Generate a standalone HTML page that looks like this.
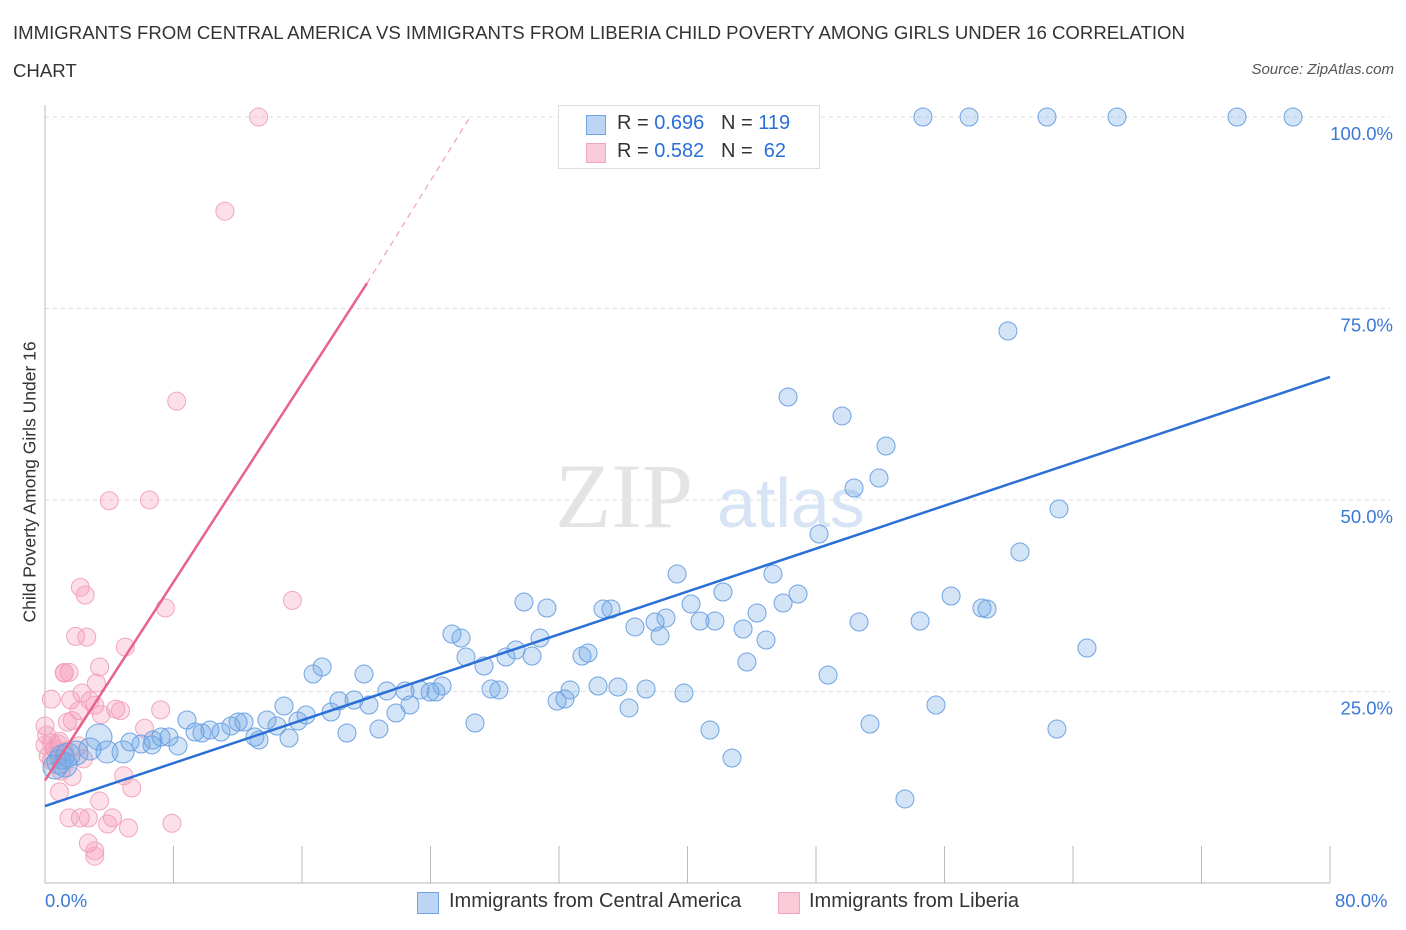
<!DOCTYPE html>
<html><head><meta charset="utf-8"><style>
body{margin:0;background:#fff;font-family:"Liberation Sans",sans-serif;}
#wrap{position:relative;width:1406px;height:930px;overflow:hidden;}
.t{position:absolute;white-space:nowrap;}
</style></head><body>
<div id="wrap">
<div class="t" style="left:13px;top:14px;font-size:18.6px;color:#333;line-height:38px;width:1200px;white-space:normal">IMMIGRANTS FROM CENTRAL AMERICA VS IMMIGRANTS FROM LIBERIA CHILD POVERTY AMONG GIRLS UNDER 16 CORRELATION CHART</div>
<div class="t" style="right:12px;top:61px;font-size:15px;color:#555;font-style:italic">Source: ZipAtlas.com</div>
<svg id="svg" width="1406" height="930" style="position:absolute;left:0;top:0"></svg>
</div>
<script>
const categoriesX=[0,80];
const yTicks=[25,50,75,100];
const yTickLabels=["25.0%","50.0%","75.0%","100.0%"];
const blueX=[54.66,57.53,62.38,66.74,74.21,77.70,59.95,46.26,49.62,52.36,50.37,51.92,63.13,48.19,60.70,39.35,45.32,42.21,46.88,56.41,29.82,31.25,34.74,35.24,58.33,58.65,40.22,45.95,44.33,36.73,37.98,40.78,41.71,38.66,50.68,54.48,43.46,38.29,44.89,30.82,25.34,25.90,29.32,30.32,28.70,33.43,33.81,26.21,27.33,43.70,64.87,17.25,16.69,19.86,48.75,32.69,34.43,35.67,37.42,39.78,27.77,28.26,31.88,32.37,21.29,22.41,23.35,23.97,24.72,24.34,14.88,18.30,19.24,20.17,21.85,22.72,17.81,36.36,55.47,8.84,13.82,16.25,15.75,12.02,11.58,12.39,10.27,10.96,9.34,9.77,14.44,26.77,20.79,18.80,7.72,7.22,6.72,5.29,5.98,6.66,8.28,13.07,13.32,15.19,51.36,63.00,41.40,3.36,3.86,4.86,2.80,1.93,1.43,0.87,1.25,0.62,42.77,53.54,1.06];
const blueY=[100,100,100,100,100,100,72.06,63.45,60.97,57.05,51.57,52.87,48.83,45.56,43.21,40.34,40.34,37.99,37.73,37.47,36.68,35.90,35.77,35.77,35.90,35.77,36.42,36.55,35.25,33.42,34.07,34.20,34.20,34.60,34.07,34.20,33.16,32.25,31.72,31.98,32.51,31.98,30.42,29.63,29.50,29.63,30.03,29.50,28.33,28.85,30.68,28.20,27.28,27.28,27.15,25.20,25.72,25.59,25.33,24.80,25.33,25.20,23.76,24.02,25.07,25.07,25.20,24.93,25.72,24.93,23.11,23.76,23.89,23.24,22.19,23.24,22.32,22.85,23.24,21.28,21.28,21.93,21.15,21.02,20.50,21.02,19.97,19.71,19.71,19.58,20.50,20.89,20.10,19.58,19.06,19.06,18.67,18.41,18.15,18.02,17.89,19.06,18.67,18.93,20.76,20.10,19.97,19.06,17.10,17.10,17.49,16.97,16.71,15.80,15.40,15.14,16.32,10.97,16.45];
const bigIdx=[107,108,109,110,111,112,113,114,115,118];
const bigR=[13,11,11,11,12,12,12,12,12,12];
const pinkX=[13.3,11.2,8.2,4.0,6.5,7.5,15.4,2.2,2.5,1.9,2.6,5.0,1.2,1.5,1.2,3.4,3.2,0.4,1.6,2.3,2.8,3.1,2.1,1.7,1.4,3.5,4.4,4.7,7.2,6.2,0.0,0.1,0.4,0.9,0.6,1.2,2.1,2.4,1.0,1.7,4.9,5.4,0.9,3.4,1.5,2.2,4.2,3.9,2.7,5.2,7.9,2.7,3.1,3.1,0.4,0.2,0.8,0.0];
const pinkY=[100,87.7,62.9,49.9,50.0,35.9,36.9,38.6,37.6,32.2,32.1,30.8,27.5,27.5,27.4,28.2,26.1,24.0,23.9,24.8,23.8,23.2,22.5,21.2,21.0,22.0,22.7,22.5,22.6,20.2,20.5,19.3,18.3,18.5,17.5,17.2,17.9,16.2,14.6,13.9,14.0,12.4,11.9,10.7,8.5,8.5,8.5,7.7,8.5,7.2,7.8,5.2,4.2,3.5,16.0,16.6,18.2,18.0];
const blueLine=[10.05,66.06];
const pinkLine=[13.4,78.3];
const pinkDash=[26.46,100];
const svg=document.getElementById('svg');
const NS='http://www.w3.org/2000/svg';
const X0=45,X1=1330,Y0=883,YP=7.66;
function sx(v){return X0+(v-categoriesX[0])/(categoriesX[1]-categoriesX[0])*(X1-X0);}
function sy(v){return Y0-v*YP;}
function mk(tag,attrs){const e=document.createElementNS(NS,tag);for(const k in attrs)e.setAttribute(k,attrs[k]);svg.appendChild(e);return e;}
yTicks.forEach((t,i)=>{
 const g=mk('line',{x1:X0,x2:1390,y1:sy(t),y2:sy(t),stroke:'#ddd','stroke-dasharray':'4,4'});
 
 
 const tx=mk('text',{x:1393,y:sy(t)+23,'text-anchor':'end','font-size':18.5,fill:'#3a78d6','font-family':'Liberation Sans, sans-serif'});
 tx.textContent=yTickLabels[i];
 
 
});
const ax=mk('line',{x1:X0,x2:X0,y1:105,y2:Y0,stroke:'#bbb'});


const axx=mk('line',{x1:X0,x2:X1,y1:Y0,y2:Y0,stroke:'#bbb'});


for(let i=1;i<=10;i++){const tk=mk('line',{x1:sx(i*8),x2:sx(i*8),y1:Y0-37,y2:Y0,stroke:'#bbb'});
 
 }
const wm=mk('text',{x:555,y:527,'font-size':92,fill:'#e4e4e4','font-family':'Liberation Serif, serif'});wm.textContent='ZIP';


const wm2=mk('text',{x:717,y:527,'font-size':70,fill:'#d6e4f5','font-family':'Liberation Sans, sans-serif'});wm2.textContent='atlas';


pinkX.forEach((x,i)=>{const c=mk('circle',{cx:sx(x),cy:sy(pinkY[i]),r:9,fill:'rgba(245,150,180,0.3)',stroke:'#f2a6bd','stroke-width':1});
 
 });
blueX.forEach((x,i)=>{const k=bigIdx.indexOf(i);const r=k>=0?bigR[k]:9;
 const c=mk('circle',{cx:sx(x),cy:sy(blueY[i]),r:r,fill:'rgba(110,165,230,0.3)',stroke:'#6fa3e2','stroke-width':1});
 
 });
const bl=mk('line',{x1:sx(0),y1:sy(blueLine[0]),x2:sx(80),y2:sy(blueLine[1]),stroke:'#2a6fd6','stroke-width':2.5});


const pl=mk('line',{x1:sx(0),y1:sy(pinkLine[0]),x2:sx(20.05),y2:sy(pinkLine[1]),stroke:'#e8628c','stroke-width':2.5});


const pd=mk('line',{x1:sx(20.05),y1:sy(pinkLine[1]),x2:sx(pinkDash[0]),y2:sy(pinkDash[1]),stroke:'#f0a0b8','stroke-width':1.2,'stroke-dasharray':'6,5'});


</script>
<div class="t" style="left:-100px;top:482px;width:260px;text-align:center;transform:rotate(-90deg);font-size:17.5px;color:#333">Child Poverty Among Girls Under 16</div>
<div class="t" style="left:45px;top:890px;font-size:18.5px;color:#3a78d6">0.0%</div>
<div class="t" style="left:1335px;top:890px;font-size:18.5px;color:#3a78d6">80.0%</div>
<div style="position:absolute;left:558px;top:105px;width:260px;height:62px;border:1px solid #ddd;background:#fff;font-size:20px;color:#333">
 <div style="position:absolute;left:27px;top:9px;width:18px;height:18px;background:#bcd5f5;border:1px solid #6fa3e2"></div>
 <div class="t" style="left:58px;top:6px">R = <span style="color:#2a6fd6">0.696</span> &nbsp;&nbsp;N = <span style="color:#2a6fd6">119</span></div>
 <div style="position:absolute;left:27px;top:37px;width:18px;height:18px;background:#f9cad8;border:1px solid #f2a6bd"></div>
 <div class="t" style="left:58px;top:34px">R = <span style="color:#2a6fd6">0.582</span> &nbsp;&nbsp;N = &nbsp;<span style="color:#2a6fd6">62</span></div>
</div>
<div style="position:absolute;left:417px;top:890px;font-size:20px;color:#333">
 <div style="position:absolute;left:0;top:2px;width:20px;height:20px;background:#bcd5f5;border:1px solid #6fa3e2"></div>
 <div class="t" style="left:32px;top:0">Immigrants from Central America</div></div>
<div style="position:absolute;left:778px;top:890px;font-size:20px;color:#333">
 <div style="position:absolute;left:0;top:2px;width:20px;height:20px;background:#f9cad8;border:1px solid #f2a6bd"></div>
 <div class="t" style="left:31px;top:0">Immigrants from Liberia</div></div>
</body></html>
